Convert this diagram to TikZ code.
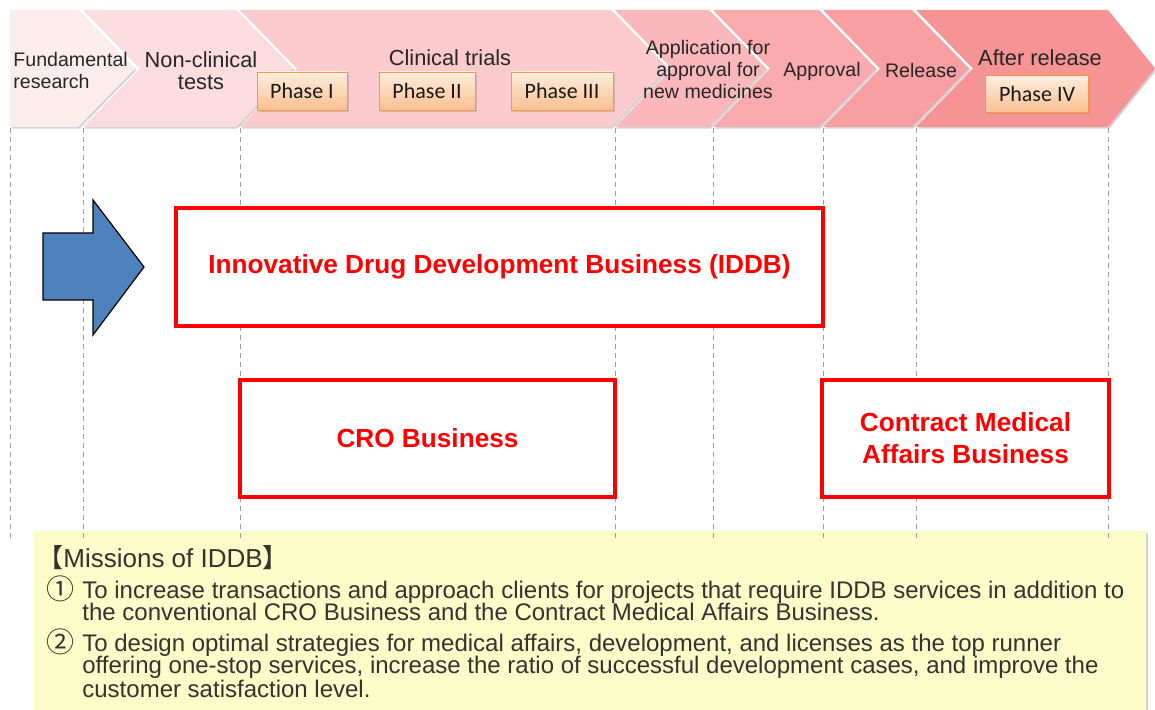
\documentclass[tikz,border=0pt]{standalone}
\usepackage{fontspec}
\setmainfont{Liberation Sans}
\newfontfamily\calibri{Carlito}
\newfontfamily\cjk{Noto Sans CJK JP}
\usetikzlibrary{shadows}

\definecolor{chevA}{HTML}{FCEDED}
\definecolor{chevB}{HTML}{FCDDDF}
\definecolor{chevC}{HTML}{FBCACD}
\definecolor{chevD}{HTML}{FAB8BC}
\definecolor{chevE}{HTML}{F9AAAE}
\definecolor{chevF}{HTML}{F89FA2}
\definecolor{chevG}{HTML}{F69395}
\definecolor{phaseline}{HTML}{F79646}
\definecolor{phasetop}{HTML}{FEEDDF}
\definecolor{phasebot}{HTML}{FAC08F}
\definecolor{arrowblue}{HTML}{4F81BD}
\definecolor{notepad}{HTML}{FCFCC8}

\begin{document}
\begin{tikzpicture}[x=0.5pt, y=-0.5pt,
    chev/.style={drop shadow={shadow xshift=0.8pt, shadow yshift=-0.8pt, opacity=0.35, fill=gray}},
    stage/.style={font=\fontsize{9.8}{11}\selectfont, text=black!85, align=center, inner sep=0},
    bigstage/.style={stage, font=\fontsize{10.9}{11}\selectfont},
    phase/.style={draw=phaseline, top color=phasetop, bottom color=phasebot,
        font=\calibri\fontsize{11}{12}\selectfont, text=black!90, inner sep=0,
        drop shadow={shadow xshift=0.8pt, shadow yshift=-0.8pt, opacity=0.3, fill=gray}},
    business/.style={draw=red, fill=white, line width=1.6pt, text=red, align=center,
        font=\bfseries\fontsize{13.1}{16}\selectfont},
    mission/.style={font=\fontsize{12}{13}\selectfont, text=black!80, inner sep=0, anchor=base west},
    missionnum/.style={mission, font=\cjk\fontsize{14}{14}\selectfont}]

    \useasboundingbox (0,0) rectangle (1155,710);

    % Process chevrons
    \fill[chevA, chev] (10,10) -- (78,10) -- (135,68.5) -- (78,127) -- (10,127) -- cycle;
    \fill[chevB, chev] (83,10) -- (236,10) -- (293,68.5) -- (236,127) -- (83,127) -- (140,68.5) -- cycle;
    \fill[chevC, chev] (240,10) -- (611,10) -- (668,68.5) -- (611,127) -- (240,127) -- (297,68.5) -- cycle;
    \fill[chevD, chev] (615,10) -- (709,10) -- (766,68.5) -- (709,127) -- (615,127) -- (672,68.5) -- cycle;
    \fill[chevE, chev] (713,10) -- (819,10) -- (876,68.5) -- (819,127) -- (713,127) -- (770,68.5) -- cycle;
    \fill[chevF, chev] (823,10) -- (912,10) -- (969,68.5) -- (912,127) -- (823,127) -- (880,68.5) -- cycle;
    \fill[chevG, chev] (916,10) -- (1108,10) -- (1155,68.5) -- (1108,127) -- (916,127) -- (973,68.5) -- cycle;

    % Stage labels
    \node[stage, anchor=west, align=left] (fund) at (13,71) {Fundamental\\research};
    \node[bigstage] (nonclin) at (201,71) {Non-clinical\\tests};
    \node[bigstage] (clin) at (450,58) {Clinical trials};
    \node[stage] (appl) at (708,70) {Application for\\approval for\\new medicines};
    \node[stage] (approv) at (822,71) {Approval};
    \node[stage] (release) at (921,71) {Release};
    \node[bigstage] (after) at (1040,58) {After release};

    % Phases
    \node[phase, minimum width=45pt, minimum height=19pt] (ph1) at (302,91) {Phase I};
    \node[phase, minimum width=48pt, minimum height=19pt] (ph2) at (427,91) {Phase II};
    \node[phase, minimum width=51pt, minimum height=19pt] (ph3) at (562,91) {Phase III};
    \node[phase, minimum width=51.5pt, minimum height=18.5pt] (ph4) at (1037,94) {Phase IV};

    % Missions box
    \fill[notepad, drop shadow={shadow xshift=1.2pt, shadow yshift=-1pt, opacity=0.35, fill=gray}]
        (34,531) rectangle (1146,714);

    % Guide lines
    \foreach \gx in {10, 83, 240, 615, 713, 823, 916, 1108}
        \draw[gray!75, line width=0.5pt, dash pattern=on 2.5pt off 2pt] (\gx,128) -- (\gx,540);

    % Big arrow
    \draw[fill=arrowblue, line width=0.6pt] (43,233) -- (93,233) -- (93,200) -- (144,267)
        -- (93,335) -- (93,300) -- (43,300) -- cycle;

    % Businesses
    \node[business, minimum width=323.5pt, minimum height=59pt] (iddb) at (499.5,267)
        {Innovative Drug Development Business (IDDB)};
    \node[business, minimum width=187.5pt, minimum height=58.5pt] (cro) at (427.5,438.5)
        {CRO Business};
    \node[business, minimum width=143.5pt, minimum height=58.5pt] (cma) at (965.5,438.5)
        {Contract Medical\\Affairs Business};

    % Missions text
    \node[mission, font=\fontsize{13}{14}\selectfont] (mhead) at (37,567) {{\cjk 【}Missions of IDDB{\cjk 】}};
    \node[missionnum] (num1) at (46,599) {①};
    \node[mission] (m1a) at (82,598) {To increase transactions and approach clients for projects that require IDDB services in addition to};
    \node[mission] (m1b) at (82,620) {the conventional CRO Business and the Contract Medical Affairs Business.};
    \node[missionnum] (num2) at (46,652) {②};
    \node[mission] (m2a) at (82,651) {To design optimal strategies for medical affairs, development, and licenses as the top runner};
    \node[mission] (m2b) at (82,673) {offering one-stop services, increase the ratio of successful development cases, and improve the};
    \node[mission] (m2c) at (82,697) {customer satisfaction level.};
\end{tikzpicture}
\end{document}
